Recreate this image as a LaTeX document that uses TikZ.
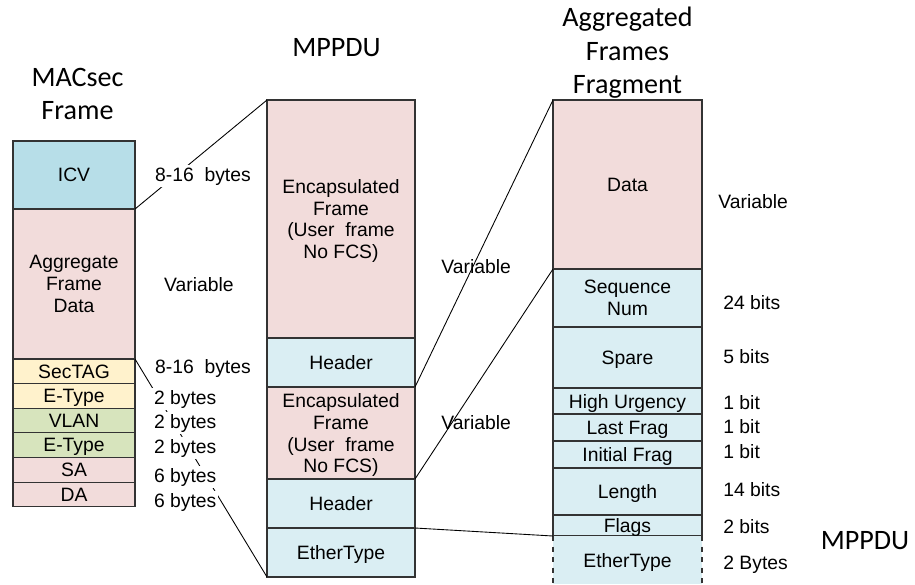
\documentclass[tikz,border=0pt]{standalone}
\usepackage{fontspec}
\setmainfont{Liberation Sans}
\newfontfamily\titlefont{Carlito}
\usepackage{xcolor}
\usetikzlibrary{positioning}

\definecolor{icvblue}{HTML}{B7DEE8}
\definecolor{rosecell}{HTML}{F2DCDB}
\definecolor{paleyel}{HTML}{FFF2CC}
\definecolor{palegrn}{HTML}{D7E4BD}
\definecolor{paleblue}{HTML}{DAEEF3}

\begin{document}
\begin{tikzpicture}[
        cell/.style={rectangle, draw=black!80, line width=0.6pt, inner xsep=2pt, inner ysep=0pt, outer sep=0pt, text depth=0pt, align=center, font=\fontsize{11}{12.5}\selectfont},
        leftcell/.style={cell, minimum width=2.44cm},
        midcell/.style={cell, minimum width=2.96cm},
        rightcell/.style={cell, minimum width=2.98cm},
        slim/.style={minimum height=0.493cm},
        title/.style={align=center, font=\titlefont\fontsize{16}{19}\selectfont},
        size/.style={anchor=west, inner sep=0pt, font=\fontsize{11}{12.5}\selectfont},
        sizebg/.style={size, fill=white, inner sep=1pt},
        link/.style={line width=0.5pt, black}
    ]
    \useasboundingbox (0,0) rectangle (18.3,-11.68);

    % MACsec frame (left)
    \node[title] (mactitle) at (1.55,-1.88) {MACsec\\Frame};
    \node[leftcell, fill=icvblue, minimum height=1.36cm, anchor=north] (icv) at (1.48,-2.82) {ICV};
    \node[leftcell, fill=rosecell, minimum height=3cm, below=0pt of icv] (aggdata) {Aggregate\\Frame\\Data};
    \node[leftcell, slim, fill=paleyel, below=0pt of aggdata] (sectag) {SecTAG};
    \node[leftcell, slim, fill=paleyel, below=0pt of sectag] (etype1) {E-Type};
    \node[leftcell, slim, fill=palegrn, below=0pt of etype1] (vlan) {VLAN};
    \node[leftcell, slim, fill=palegrn, below=0pt of vlan] (etype2) {E-Type};
    \node[leftcell, slim, fill=rosecell, below=0pt of etype2] (sa) {SA};
    \node[leftcell, slim, fill=rosecell, below=0pt of sa] (da) {DA};

    % MPPDU (middle)
    \node[title] (mptitle) at (6.73,-0.96) {MPPDU};
    \node[midcell, fill=rosecell, minimum height=4.76cm, anchor=north] (encap1) at (6.82,-2) {Encapsulated\\Frame\\(User\ \ frame\\No FCS)};
    \node[midcell, fill=paleblue, minimum height=0.98cm, below=0pt of encap1] (header1) {Header};
    \node[midcell, fill=rosecell, minimum height=1.84cm, below=0pt of header1] (encap2) {Encapsulated\\Frame\\(User\ \ frame\\No FCS)};
    \node[midcell, fill=paleblue, minimum height=0.98cm, below=0pt of encap2] (header2) {Header};
    \node[midcell, fill=paleblue, minimum height=0.98cm, below=0pt of header2] (ethtype) {EtherType};

    % Aggregated frames fragment (right)
    \node[title] (fragtitle) at (12.55,-1.06) {Aggregated\\Frames\\Fragment};
    \node[rightcell, fill=rosecell, minimum height=3.38cm, anchor=north] (data) at (12.55,-2) {Data};
    \node[rightcell, fill=paleblue, minimum height=1.16cm, below=0pt of data] (seqnum) {Sequence\\Num};
    \node[rightcell, fill=paleblue, minimum height=1.22cm, below=0pt of seqnum] (spare) {Spare};
    \node[rightcell, fill=paleblue, minimum height=0.52cm, below=0pt of spare] (urgency) {High Urgency};
    \node[rightcell, fill=paleblue, minimum height=0.54cm, below=0pt of urgency] (lastfrag) {Last Frag};
    \node[rightcell, fill=paleblue, minimum height=0.54cm, below=0pt of lastfrag] (initfrag) {Initial Frag};
    \node[rightcell, fill=paleblue, minimum height=0.94cm, below=0pt of initfrag] (length) {Length};
    \node[rightcell, fill=paleblue, minimum height=0.42cm, below=0pt of length] (flags) {Flags};
    \node[rightcell, fill=paleblue, draw=none, minimum height=0.96cm, below=0pt of flags] (ethfrag) {EtherType};
    \draw[dashed, draw=black!80, line width=0.6pt] (ethfrag.north west) -- (ethfrag.south west)
        (ethfrag.north east) -- (ethfrag.south east);
    \node[title] (mptitle2) at (17.3,-10.82) {MPPDU};

    % links between the frames
    \draw[link] (icv.south east) -- (encap1.north west);
    \draw[link] (aggdata.south east) -- (ethtype.south west);
    \draw[link] (header1.south east) -- (data.north west);
    \draw[link] (encap2.south east) -- (data.south west);
    \draw[link] (header2.south east) -- (flags.south west);

    % field sizes
    \node[sizebg] (icvsize) at (3.06,-3.52) {8-16\ \ bytes};
    \node[sizebg] (aggsize) at (3.24,-5.7) {Variable};
    \node[sizebg] (sectagsize) at (3.06,-7.36) {8-16\ \ bytes};
    \node[sizebg] (etype1size) at (3.04,-7.98) {2 bytes};
    \node[sizebg] (vlansize) at (3.04,-8.46) {2 bytes};
    \node[sizebg] (etype2size) at (3.04,-8.96) {2 bytes};
    \node[sizebg] (sasize) at (3.04,-9.54) {6 bytes};
    \node[sizebg] (dasize) at (3.04,-10.04) {6 bytes};

    \node[size] (encap1size) at (8.82,-5.34) {Variable};
    \node[size] (encap2size) at (8.82,-8.46) {Variable};

    \node[size] (datasize) at (14.36,-4.04) {Variable};
    \node[size] (seqsize) at (14.46,-6.06) {24 bits};
    \node[size] (sparesize) at (14.46,-7.14) {5 bits};
    \node[size] (urgsize) at (14.46,-8.06) {1 bit};
    \node[size] (lastsize) at (14.46,-8.54) {1 bit};
    \node[size] (initsize) at (14.46,-9.04) {1 bit};
    \node[size] (lengthsize) at (14.46,-9.8) {14 bits};
    \node[size] (flagssize) at (14.46,-10.54) {2 bits};
    \node[size] (ethsize) at (14.46,-11.3) {2 Bytes};

    \end{tikzpicture}
\end{document}
